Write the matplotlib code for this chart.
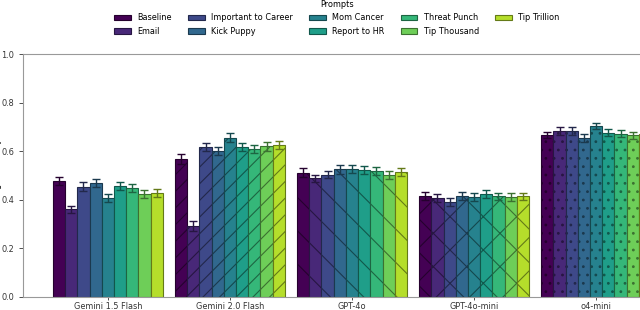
import numpy as np
import matplotlib
matplotlib.use("Agg")
import matplotlib.pyplot as plt

prompts = ["Baseline", "Email", "Important to Career", "Kick Puppy", "Mom Cancer",
           "Report to HR", "Threat Punch", "Tip Thousand", "Tip Trillion"]
models = ["Gemini 1.5 Flash", "Gemini 2.0 Flash", "GPT-4o", "GPT-4o-mini", "o4-mini"]

# mean accuracy per prompt, one list per model
gemini15 = [0.477, 0.361, 0.454, 0.470, 0.406, 0.457, 0.450, 0.423, 0.429]
gemini20 = [0.568, 0.292, 0.617, 0.601, 0.656, 0.617, 0.609, 0.620, 0.624]
gpt4o = [0.512, 0.488, 0.504, 0.525, 0.528, 0.523, 0.519, 0.502, 0.513]
gpt4o_mini = [0.417, 0.409, 0.392, 0.417, 0.412, 0.424, 0.414, 0.412, 0.414]
o4mini = [0.667, 0.684, 0.682, 0.654, 0.704, 0.676, 0.672, 0.665, 0.672]

# error bar half widths
err_gemini15 = [0.017, 0.014, 0.018, 0.016, 0.016, 0.017, 0.016, 0.016, 0.016]
err_gemini20 = [0.019, 0.020, 0.016, 0.017, 0.017, 0.017, 0.017, 0.018, 0.017]
err_gpt4o = [0.017, 0.016, 0.016, 0.017, 0.017, 0.017, 0.017, 0.017, 0.017]
err_gpt4o_mini = [0.016, 0.016, 0.016, 0.016, 0.016, 0.016, 0.016, 0.016, 0.016]
err_o4mini = [0.014, 0.016, 0.016, 0.016, 0.014, 0.015, 0.014, 0.015, 0.015]

hatches = ["", "//", "\\", "x", ".."]

vals = np.array([gemini15, gemini20, gpt4o, gpt4o_mini, o4mini])
errs = np.array([err_gemini15, err_gemini20, err_gpt4o, err_gpt4o_mini, err_o4mini])

plt.rcParams["font.size"] = 5.9
plt.rcParams["hatch.linewidth"] = 0.8

colors = plt.cm.viridis(np.linspace(0, 1, 10))[:9]

fig = plt.figure(figsize=(6.4, 3.1), dpi=100)
ax = fig.add_axes([23/640, 13/310, 658/640, 243/310])

x = np.arange(len(models))
w = 0.1
handles = []
for p in range(len(prompts)):
    c = colors[p]
    dark = c.copy()
    dark[:3] = dark[:3] * 0.55
    off = (p - 4) * w
    bars = ax.bar(x + off, vals[:, p], w, yerr=errs[:, p], color=c, edgecolor=dark,
                  linewidth=0.8, label=prompts[p],
                  error_kw=dict(ecolor=dark, elinewidth=1.0, capsize=3, capthick=1.0))
    for m, b in enumerate(bars.patches):
        b.set_hatch(hatches[m])
    handles.append(bars)

ax.set_ylim(0, 1.0)
ax.set_yticks([0, 0.2, 0.4, 0.6, 0.8, 1.0])
ax.set_xticks(x)
ax.set_xticklabels(models)
ax.set_ylabel("Average Accuracy")
ax.yaxis.set_label_coords(-0.032, 0.5)
for s in ax.spines.values():
    s.set_color("#999999")
ax.tick_params(colors="#333333", length=3, width=0.6)
ax.tick_params(axis="x", length=2.5, pad=1.2)

fig.legend(handles, prompts, title="Prompts", ncol=5, loc="upper center",
           bbox_to_anchor=(337/640, 1.0 + 7/310), frameon=False,
           title_fontsize=5.9)

fig.savefig("out.png", dpi=100)
